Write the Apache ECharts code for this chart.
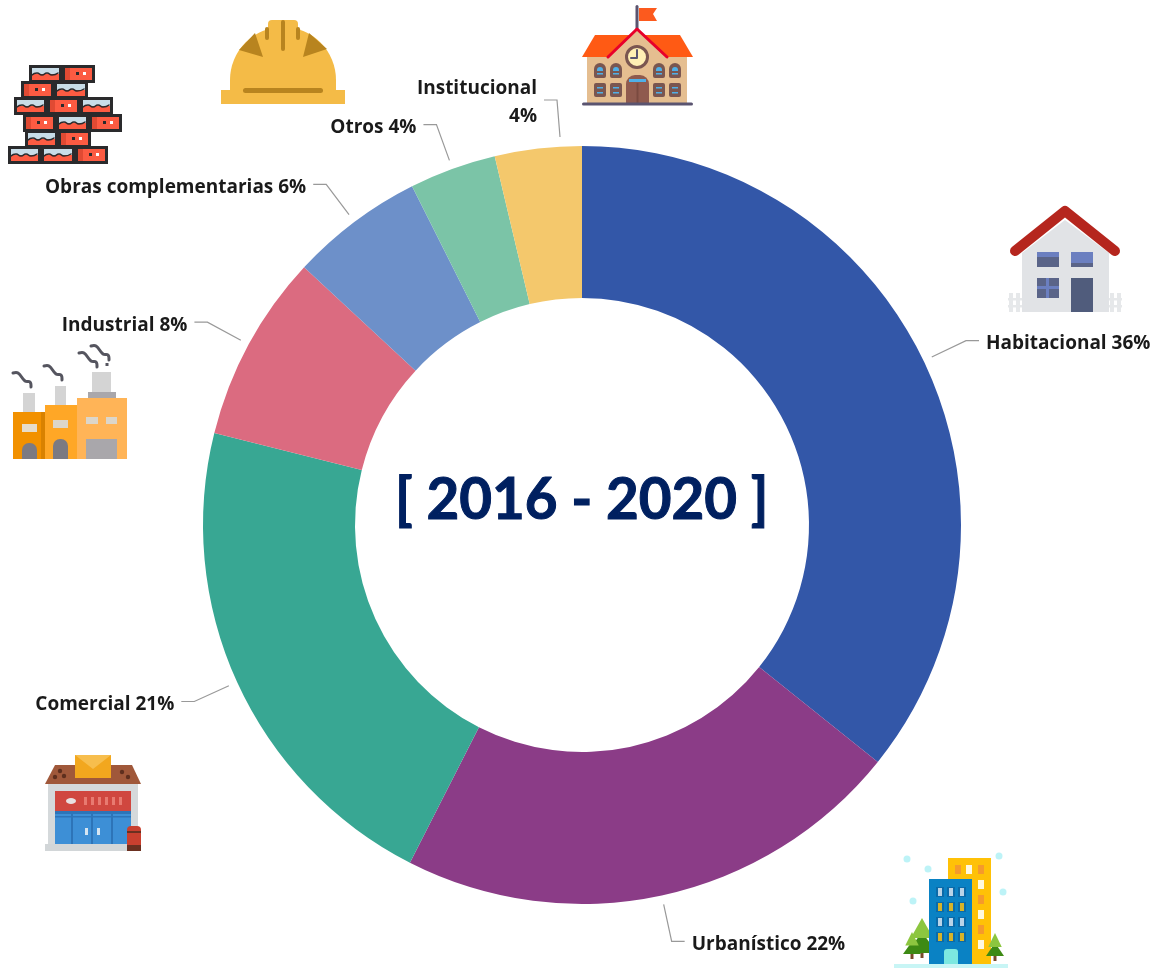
<!DOCTYPE html>
<html>
<head>
<meta charset="utf-8">
<title>2016 - 2020</title>
<script src="https://cdn.jsdelivr.net/npm/echarts@6/dist/echarts.min.js"></script>
<style>
  html, body { margin: 0; padding: 0; background: #fff; }
  #main { width: 1159px; height: 970px; }
</style>
</head>
<body>
<div id="main"></div>
<script>
var categories = ['Habitacional', 'Urbanístico', 'Comercial', 'Industrial', 'Obras complementarias', 'Otros', 'Institucional'];
var sliceValues = [35.75, 21.75, 21.4, 8.0, 5.7, 3.7, 3.7];
var percentLabels = ['36%', '22%', '21%', '8%', '6%', '4%', '4%'];
var sliceColors = ['#3357A8', '#8B3C87', '#38A793', '#DB6B80', '#6D90C9', '#7BC4A7', '#F4C86C'];
var periodText = '[ 2016 - 2020 ]';

var pieData = categories.map(function(name, i) {
  return { name: name, value: sliceValues[i], itemStyle: { color: sliceColors[i] } };
});

// small helpers for the decorative icons
function box(x, y, w, h, fill, r) {
  return { type: 'rect', shape: { x: x, y: y, width: w, height: h, r: r || 0 }, style: { fill: fill } };
}
function poly(points, fill) {
  return { type: 'polygon', shape: { points: points }, style: { fill: fill } };
}
function dot(x, y, r, fill) {
  return { type: 'circle', shape: { cx: x, cy: y, r: r }, style: { fill: fill } };
}
function line(points, color, width) {
  return { type: 'polyline', shape: { points: points }, style: { stroke: color, lineWidth: width, fill: null, lineCap: 'round', lineJoin: 'round' } };
}
function wave(points, color, width, smooth) {
  return { type: 'polyline', shape: { points: points, smooth: smooth }, style: { stroke: color, lineWidth: width, fill: null, lineCap: 'round' } };
}

function helmetIcon() {
  var tan = '#B8841F', gold = '#F4BB47';
  return [
    box(221, 90, 124, 14, gold),
    { type: 'sector', shape: { cx: 283, cy: 80, r: 53, r0: 0, startAngle: Math.PI, endAngle: 2 * Math.PI }, style: { fill: gold } },
    box(230, 80, 106, 12, gold),
    box(268, 20, 30, 14, gold, 4),
    box(281, 20, 4, 31, tan, 2),
    box(265, 27, 4, 13, tan, 2),
    box(296, 27, 4, 13, tan, 2),
    poly([[255, 33], [239, 50], [263, 57]], tan),
    poly([[309, 33], [327, 49], [303, 57]], tan),
    box(243, 88, 80, 5, tan, 2.5)
  ];
}

function bricksIcon() {
  var out = [];
  var rows = [
    [65, [[29, 33, 'b'], [62, 33, 'a']]],
    [81, [[21, 33, 'a'], [54, 34, 'b']]],
    [97, [[14, 33, 'b'], [47, 33, 'a'], [80, 33, 'b']]],
    [114, [[23, 33, 'a'], [56, 33, 'b'], [89, 33, 'a']]],
    [130, [[25, 33, 'b'], [58, 33, 'a']]],
    [146, [[8, 33, 'b'], [41, 34, 'b'], [75, 33, 'a']]]
  ];
  rows.forEach(function(row) {
    var y = row[0];
    row[1].forEach(function(b) {
      var x = b[0], w = b[1];
      out.push(box(x, y, w, 18, '#2A2A2C'));
      out.push(box(x + 3, y + 3, w - 6, 12, '#FC5B42'));
      if (b[2] === 'a') {
        out.push(box(x + 3, y + 3, 5, 12, '#E04A33'));
        out.push(box(x + 14, y + 7, 3, 3, '#2A2A2C'));
        out.push(box(x + 21, y + 7, 3, 3, '#fff'));
      } else {
        out.push(box(x + 3, y + 3, w - 6, 6, '#C8DDE8'));
        out.push(wave([[x + 3, y + 10], [x + 8, y + 8], [x + 13, y + 10], [x + 18, y + 8], [x + 23, y + 10], [x + w - 4, y + 8]], '#2A2A2C', 1.5, 0.6));
      }
    });
  });
  return out;
}

function schoolIcon() {
  var out = [
    box(635.5, 5, 3, 26, '#5A5470', 1.5),
    poly([[639, 8], [657, 8], [653, 14], [657, 21], [639, 21]], '#FC5A1E'),
    box(587, 57, 100, 46, '#E5BE90'),
    poly([[595, 35], [680, 35], [693, 57], [582, 57]], '#FF5A14'),
    poly([[608, 58], [637, 29], [667, 58]], '#E5BE90'),
    line([[608, 57], [637, 29], [667, 57]], '#E8002A', 3),
    { type: 'circle', shape: { cx: 637, cy: 57, r: 10.5 }, style: { fill: '#FFEFB4', stroke: '#7A5650', lineWidth: 3 } },
    line([[637, 50], [637, 58], [631, 58]], '#5A5470', 2),
    box(626, 75, 23, 28, '#8F5A4E', [9, 9, 0, 0]),
    box(629, 79, 17, 3, '#4FB0E8'),
    box(636.5, 83, 2, 20, '#7A4A40'),
    box(582, 102.5, 111, 3, '#5A5470', 1.5)
  ];
  [594, 610, 653, 669].forEach(function(x) {
    out.push(box(x, 63, 12, 15, '#7A5650', [6, 6, 2, 2]));
    out.push(box(x + 3, 67, 6, 4, '#4FB0E8', [3, 3, 0, 0]));
    out.push(box(x + 3, 73, 6, 1.5, '#4FB0E8'));
    out.push(box(x, 83, 12, 14, '#7A5650', 2));
    out.push(box(x + 3, 87, 6, 1.5, '#4FB0E8'));
    out.push(box(x + 3, 92, 6, 1.5, '#4FB0E8'));
  });
  return out;
}

function houseIcon() {
  var out = [];
  [1009, 1016, 1110, 1117].forEach(function(x) {
    out.push(box(x, 293, 4, 19, '#E6E8EA'));
  });
  out.push(box(1008, 298, 14, 2.5, '#E6E8EA'), box(1008, 305, 14, 2.5, '#E6E8EA'));
  out.push(box(1109, 298, 13, 2.5, '#E6E8EA'), box(1109, 305, 13, 2.5, '#E6E8EA'));
  out.push(poly([[1022, 253], [1065, 220], [1109, 253], [1109, 312], [1022, 312]], '#E1E3E6'));
  out.push(line([[1015, 251], [1065, 211], [1115, 251]], '#B5261E', 10));
  out.push(box(1037, 252, 22, 15, '#5A6488'), box(1037, 252, 22, 5, '#6B7FC0'));
  out.push(box(1071, 252, 22, 15, '#6B7FC0'), box(1071, 263, 22, 4, '#5A6488'));
  out.push(box(1037, 278, 22, 20, '#5A6488'), box(1046, 278, 3, 20, '#6B7FC0'), box(1037, 286, 22, 3, '#6B7FC0'));
  out.push(box(1071, 278, 22, 34, '#505C7C'));
  return out;
}

function smokePuff(x, y) {
  return wave([[x, y], [x + 5, y], [x + 12, y + 8], [x + 17, y + 9], [x + 18, y + 14]], '#55555F', 3, 0.4);
}

function factoryIcon() {
  return [
    box(23, 393, 12, 19, '#D4D4D4'),
    box(55, 386, 11, 19, '#D4D4D4'),
    box(92, 372, 19, 20, '#D4D4D4'),
    box(88, 392, 28, 6, '#A9A7AB'),
    box(13, 412, 32, 47, '#F29100'),
    box(41, 412, 4, 47, '#D98200'),
    box(45, 405, 32, 54, '#FFA726'),
    box(77, 398, 50, 61, '#FFB457'),
    box(22, 424, 15, 8, '#E6DCCB'),
    box(53, 420, 15, 8, '#DCD6CA'),
    box(86, 417, 12, 7, '#DCD6CA'),
    box(106, 417, 11, 7, '#DCD6CA'),
    box(22, 443, 15, 16, '#7C7A82', [7, 7, 0, 0]),
    box(53, 439, 15, 20, '#7C7A82', [7, 7, 0, 0]),
    box(86, 439, 31, 20, '#A9A7AB'),
    smokePuff(13, 373),
    smokePuff(44, 366),
    smokePuff(79, 353),
    smokePuff(91, 346),
    box(105.5, 363, 3, 3, '#55555F')
  ];
}

function shopIcon() {
  var out = [
    box(48, 784, 90, 61, '#D5D9DB'),
    box(45, 844, 93, 7, '#D2D6D8'),
    poly([[55, 765], [132, 765], [141, 784], [45, 784]], '#A0583A'),
    box(75, 755, 36, 23, '#F2A71E'),
    poly([[75, 755], [111, 755], [93, 769]], '#F7BE4D'),
    box(55, 791, 76, 20, '#D0473F'),
    { type: 'ellipse', shape: { cx: 71, cy: 801, rx: 5, ry: 3 }, style: { fill: '#E8E0E0' } },
    box(55, 811, 76, 33, '#3D8FD6'),
    box(55, 811, 76, 3, '#2D74B8'),
    box(55, 816, 76, 1.5, '#2D74B8'),
    box(71, 814, 2, 30, '#2D74B8'),
    box(91, 814, 2, 30, '#2D74B8'),
    box(111, 814, 2, 30, '#2D74B8'),
    box(85, 828, 3, 7, '#D5E5F2'),
    box(97, 828, 3, 7, '#D5E5F2'),
    box(127, 826, 14, 20, '#C9402F', [4, 4, 0, 0]),
    box(127, 831, 14, 2, '#6B3020'),
    box(127, 845, 14, 6, '#6B3020')
  ];
  [85, 92, 99, 106, 113, 120].forEach(function(x) {
    out.push(box(x - 1, 797, 3, 8, '#E87A70'));
  });
  [[60, 771], [55, 777], [64, 776], [122, 772], [128, 777]].forEach(function(p) {
    out.push(dot(p[0], p[1], 2.2, '#5E2F1E'));
  });
  return out;
}

function tree(cx, top, bottom, halfW) {
  var h = bottom - top;
  return [
    box(cx - 1.5, bottom - 6, 3, 6, '#7A4A2A'),
    poly([[cx, top + h * 0.35], [cx + halfW, bottom - 5], [cx - halfW, bottom - 5]], '#3D8A14'),
    poly([[cx, top], [cx + halfW * 0.75, top + h * 0.5], [cx - halfW * 0.75, top + h * 0.5]], '#8CC63F')
  ];
}

function cityIcon() {
  var out = [];
  [[907, 859], [928, 869], [913, 901], [999, 856], [1003, 892]].forEach(function(p) {
    out.push(dot(p[0], p[1], 3.5, '#BDF3F7'));
  });
  out.push(box(948, 858, 43, 106, '#FFC107'));
  out.push(box(955, 865, 6, 9, '#F59A2C'), box(966, 865, 6, 9, '#FFF8E0'), box(978, 865, 6, 9, '#F59A2C'));
  [[880, '#FFF8E0'], [895, '#F59A2C'], [910, '#FFF8E0'], [925, '#F59A2C'], [940, '#FFF8E0']].forEach(function(w) {
    out.push(box(978, w[0], 6, 9, w[1]));
  });
  out = out.concat(tree(922, 918, 958, 15));
  out = out.concat(tree(912, 932, 959, 9));
  out.push(box(929, 879, 43, 85, '#0A82C4'));
  [[888, '#B8D4E8'], [903, '#D6B42A'], [918, '#B8D4E8'], [933, '#D6B42A']].forEach(function(r) {
    [937, 948, 959].forEach(function(x) {
      out.push(box(x - 1, r[0] - 1, 8, 10, '#0A6AA8'));
      out.push(box(x + 1, r[0], 4, 8, r[1]));
    });
  });
  out.push(box(944, 949, 14, 15, '#7CE8E0', [3, 3, 0, 0]));
  out = out.concat(tree(995, 933, 961, 9));
  out.push(box(894, 964, 114, 4, '#C8F5F5'));
  return out;
}

var iconElements = [].concat(helmetIcon(), bricksIcon(), schoolIcon(), houseIcon(), factoryIcon(), shopIcon(), cityIcon());

var option = {
  animation: false,
  backgroundColor: '#fff',
  graphic: [
    {
      type: 'text',
      left: 394.5,
      top: 472,
      z: 10,
      style: { text: periodText, font: 'bold 56.5px Lato', fill: '#002060', stroke: '#002060', lineWidth: 1 }
    },
    { type: 'group', silent: true, children: iconElements }
  ],
  series: [
    {
      type: 'pie',
      center: [582, 525],
      radius: [227, 379],
      startAngle: 90,
      silent: true,
      label: { show: false },
      labelLine: { show: false },
      data: pieData
    },
    {
      // same slices, slightly larger and unpainted: carries the labels so the leader lines start off the ring
      type: 'pie',
      center: [582, 525],
      radius: [379, 388],
      startAngle: 90,
      silent: true,
      avoidLabelOverlap: false,
      itemStyle: { color: 'transparent' },
      label: {
        show: true,
        fontFamily: 'Open Sans',
        fontWeight: 'bold',
        fontSize: 19,
        color: '#1a1a1a',
        lineHeight: 28,
        distanceToLabelLine: 7,
        formatter: function(p) {
          var sep = p.name === 'Institucional' ? '\n' : ' ';
          return p.name + sep + percentLabels[p.dataIndex];
        }
      },
      labelLine: {
        show: true,
        length: 38,
        length2: 13,
        lineStyle: { color: '#999', width: 1.2 }
      },
      labelLayout: function(params) {
        // the Institucional label sits on two lines with its leader nudged towards the top
        if (params.dataIndex === 6) {
          return {
            hideOverlap: false,
            x: 537,
            y: 103,
            align: 'right',
            verticalAlign: 'middle',
            labelLinePoints: [[560, 137], [557, 100], [544, 100]]
          };
        }
        return { hideOverlap: false, dy: 3, labelLinePoints: params.labelLinePoints };
      },
      data: categories.map(function(name, i) {
        return { name: name, value: sliceValues[i] };
      })
    }
  ]
};

var chart = echarts.init(document.getElementById('main'));
chart.setOption(option);
</script>
</body>
</html>
